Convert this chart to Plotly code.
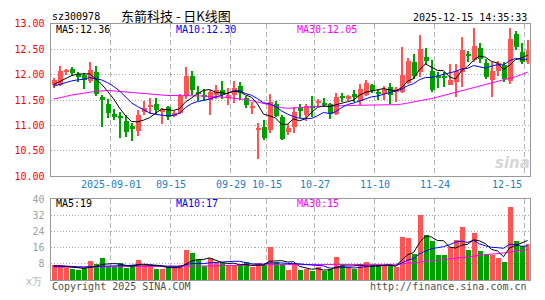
import plotly.graph_objects as go
import pandas as pd

# ---------------- data ----------------
start_day, end_day = "2025-08-18", "2025-12-15"
holiday_from, holiday_to = "2025-10-01", "2025-10-08"
days = [d for d in pd.bdate_range(start_day, end_day)
        if not (pd.Timestamp(holiday_from) <= d <= pd.Timestamp(holiday_to))]
dates = [d.strftime("%Y-%m-%d") for d in days]

opens = [11.80, 11.81, 12.06, 12.11, 12.01, 12.00, 11.87, 12.06, 11.56, 11.43,
         11.24, 11.18, 11.10, 11.00, 10.90, 11.27, 11.36, 11.43, 11.28, 11.37,
         11.20, 11.26, 11.58, 11.98, 11.67, 11.61, 11.51, 11.61, 11.71, 11.54,
         11.61, 11.78, 11.54, 11.36, 10.92, 10.98, 10.92, 11.43, 11.18, 10.88,
         10.97, 11.34, 11.22, 11.39, 11.45, 11.45, 11.43, 11.24, 11.57, 11.52,
         11.62, 11.49, 11.61, 11.81, 11.65, 11.62, 11.76, 11.66, 11.66, 11.85,
         12.25, 12.05, 12.36, 12.08, 11.97, 11.97, 11.81, 11.86, 12.05, 12.40,
         12.29, 12.53, 12.23, 11.90, 12.08, 12.19, 11.88, 12.81, 12.44, 12.25]
highs = [11.93, 12.17, 12.11, 12.15, 12.06, 12.04, 12.26, 12.17, 11.60, 11.53,
         11.33, 11.28, 11.22, 11.06, 11.31, 11.48, 11.54, 11.54, 11.35, 11.39,
         11.29, 11.62, 12.15, 12.07, 11.78, 11.72, 11.70, 11.80, 11.87, 11.75,
         11.87, 11.86, 11.58, 11.47, 11.05, 11.12, 11.62, 11.49, 11.22, 11.04,
         11.37, 11.43, 11.43, 11.58, 11.53, 11.54, 11.45, 11.64, 11.65, 11.61,
         11.71, 11.83, 11.89, 11.83, 11.71, 11.78, 11.85, 11.76, 12.55, 12.33,
         12.41, 12.78, 12.52, 12.30, 12.05, 12.05, 12.21, 12.21, 12.75, 12.46,
         12.93, 12.63, 12.32, 12.25, 12.27, 12.25, 12.92, 12.87, 12.62, 12.68]
lows = [11.74, 11.78, 12.00, 11.98, 11.86, 11.72, 11.85, 11.59, 10.97, 11.15,
        11.12, 10.76, 10.77, 10.70, 10.80, 11.22, 11.24, 11.24, 11.03, 11.12,
        11.18, 11.24, 11.53, 11.61, 11.48, 11.49, 11.22, 11.53, 11.53, 11.41,
        11.45, 11.50, 11.35, 11.23, 10.35, 10.73, 10.86, 11.17, 10.73, 10.82,
        10.86, 11.15, 11.10, 11.18, 11.39, 11.37, 11.14, 11.22, 11.47, 11.48,
        11.47, 11.41, 11.58, 11.64, 11.51, 11.51, 11.43, 11.47, 11.64, 11.83,
        11.91, 11.95, 12.20, 11.67, 11.74, 11.77, 11.80, 11.56, 11.77, 12.25,
        12.25, 12.24, 11.92, 11.56, 11.98, 11.86, 11.83, 12.49, 12.21, 12.21]
closes = [11.89, 12.08, 12.10, 12.03, 11.96, 11.90, 12.09, 11.62, 11.50, 11.26,
          11.17, 11.17, 10.87, 10.93, 11.22, 11.34, 11.41, 11.31, 11.32, 11.18,
          11.26, 11.58, 11.98, 11.70, 11.63, 11.56, 11.67, 11.71, 11.61, 11.61,
          11.75, 11.64, 11.40, 11.38, 10.94, 10.76, 11.47, 11.20, 10.74, 10.96,
          11.28, 11.29, 11.39, 11.36, 11.47, 11.41, 11.24, 11.56, 11.55, 11.58,
          11.56, 11.73, 11.85, 11.68, 11.64, 11.73, 11.61, 11.73, 12.00, 12.28,
          11.98, 12.51, 12.28, 11.70, 11.95, 11.95, 11.90, 12.08, 12.49, 12.38,
          12.56, 12.32, 11.96, 12.08, 12.23, 11.92, 12.71, 12.54, 12.25, 12.48]
volumes = [7.1, 7.1, 5.8, 5.5, 4.8, 5.8, 9.4, 8.0, 10.9, 6.3,
           6.3, 8.3, 5.8, 7.1, 9.8, 7.1, 7.1, 5.5, 5.2, 6.3,
           6.3, 7.1, 14.5, 13.2, 9.8, 6.6, 10.9, 8.3, 8.3, 7.1,
           7.4, 7.1, 8.6, 6.3, 8.3, 7.1, 16.3, 8.9, 7.7, 4.8,
           7.8, 4.8, 5.2, 4.3, 6.3, 4.3, 5.2, 11.4, 7.5, 5.8,
           5.2, 7.5, 8.9, 7.1, 7.1, 7.1, 7.1, 6.3, 21.4, 20.9,
           12.5, 32.0, 22.2, 19.1, 12.2, 12.2, 16.3, 19.7, 26.0, 14.5,
           23.2, 14.0, 12.5, 12.0, 10.5, 8.9, 35.8, 19.1, 16.6, 17.8]
# closes / volumes of the sessions just before the first visible one (for MA start)
prev_closes = [11.70, 11.72, 11.74, 11.76, 11.78, 11.76, 11.78, 11.79, 11.80]
prev_volumes = [7.0, 7.2, 6.9, 7.1, 7.3, 6.8, 7.0, 7.2, 7.1]
# 30-day averages
ma30_price = [11.52, 11.54, 11.57, 11.60, 11.62, 11.64, 11.66, 11.67, 11.68, 11.69,
              11.68, 11.67, 11.66, 11.65, 11.63, 11.62, 11.61, 11.60, 11.60, 11.59,
              11.59, 11.59, 11.59, 11.58, 11.58, 11.58, 11.57, 11.57, 11.56, 11.55,
              11.54, 11.53, 11.51, 11.49, 11.46, 11.43, 11.40, 11.37, 11.35, 11.34,
              11.34, 11.35, 11.36, 11.37, 11.37, 11.38, 11.38, 11.39, 11.39, 11.39,
              11.40, 11.40, 11.40, 11.40, 11.40, 11.40, 11.41, 11.41, 11.42, 11.44,
              11.46, 11.48, 11.50, 11.53, 11.56, 11.59, 11.62, 11.65, 11.68, 11.71,
              11.74, 11.77, 11.80, 11.83, 11.86, 11.89, 11.92, 11.96, 12.00, 12.05]
ma30_vol = [6.3, 6.3, 6.4, 6.4, 6.4, 6.5, 6.5, 6.5, 6.6, 6.6,
            6.6, 6.6, 6.7, 6.7, 6.7, 6.7, 6.8, 6.8, 6.8, 6.8,
            6.9, 6.9, 6.9, 7.0, 7.0, 7.0, 7.0, 7.1, 7.1, 7.1,
            7.2, 7.2, 7.3, 7.4, 7.5, 7.6, 7.7, 7.7, 7.7, 7.7,
            7.7, 7.7, 7.7, 7.7, 7.7, 7.6, 7.6, 7.6, 7.6, 7.6,
            7.6, 7.6, 7.6, 7.7, 7.7, 7.7, 7.8, 7.8, 8.0, 8.3,
            8.6, 8.9, 9.2, 9.4, 9.7, 10.0, 10.4, 10.8, 11.2, 11.5,
            11.9, 12.3, 12.6, 12.9, 13.1, 13.3, 13.8, 14.3, 14.7, 15.1]

tick_dates = ["2025-09-01", "2025-09-15", "2025-09-29", "2025-10-15",
              "2025-10-27", "2025-11-10", "2025-11-24", "2025-12-15"]
tick_labels = ["2025-09-01", "09-15", "09-29", "10-15", "10-27", "11-10", "11-24", "12-15"]
price_ticks = [10.0, 10.5, 11.0, 11.5, 12.0, 12.5, 13.0]
vol_ticks = [8, 16, 24, 32, 40]

code = "sz300978"
title = "东箭科技 - 日K线图"
stamp = "2025-12-15 14:35:33"
price_ma_text = ["MA5:12.36", "MA10:12.30", "MA30:12.05"]
vol_ma_text = ["MA5:19", "MA10:17", "MA30:15"]
unit_text = "x万"
copyright_text = "Copyright 2025 SINA.COM"
url_text = "http://finance.sina.com.cn"

# ---------------- helpers ----------------
def moving_avg(prev, vals, n):
    full = list(prev) + list(vals)
    off = len(prev)
    return [sum(full[off + i - n + 1: off + i + 1]) / n for i in range(len(vals))]

W, H = 545, 300
RED, GREEN = "#ff5454", "#00a000"
MONO = "DejaVu Sans Mono"

x = list(range(len(dates)))
up = [c >= o for o, c in zip(opens, closes)]
colors = [RED if u else GREEN for u in up]
body_base = [min(o, c) for o, c in zip(opens, closes)]
body_h = [max(abs(c - o), 0.015) for o, c in zip(opens, closes)]
wick_h = [h - l for h, l in zip(highs, lows)]

ma5 = moving_avg(prev_closes, closes, 5)
ma10 = moving_avg(prev_closes, closes, 10)
vma5 = moving_avg(prev_volumes, volumes, 5)
vma10 = moving_avg(prev_volumes, volumes, 10)

grid_pos = [dates.index(d) - 0.5 for d in tick_dates]

fig = go.Figure()
# price panel
fig.add_trace(go.Bar(x=x, y=wick_h, base=lows, width=1 / 6, marker=dict(color=colors, line_width=0),
                     xaxis="x", yaxis="y"))
fig.add_trace(go.Bar(x=x, y=body_h, base=body_base, width=5 / 6, marker=dict(color=colors, line_width=0),
                     xaxis="x", yaxis="y"))
for vals, col in [(ma30_price, "#ff00ff"), (ma10, "#0000ff"), (ma5, "#000000")]:
    fig.add_trace(go.Scatter(x=x, y=vals, mode="lines", line=dict(color=col, width=1),
                             xaxis="x", yaxis="y"))
# volume panel
fig.add_trace(go.Bar(x=x, y=volumes, width=5 / 6, marker=dict(color=colors, line_width=0),
                     xaxis="x2", yaxis="y2"))
for vals, col in [(ma30_vol, "#ff00ff"), (vma10, "#0000ff"), (vma5, "#000000")]:
    fig.add_trace(go.Scatter(x=x, y=vals, mode="lines", line=dict(color=col, width=1),
                             xaxis="x2", yaxis="y2"))

x0, x1 = 50.5, 529.5
xrange = [-0.5, -0.5 + (x1 - x0) / 6]
xdom = [x0 / W, x1 / W]
p_top, p_bot = 18.5, 177.5
v_top, v_bot = 201.5, 285.5

axis_common = dict(showline=True, linecolor="#999999", linewidth=1, mirror=True,
                   zeroline=False, ticks="", fixedrange=True)
xaxis_cfg = dict(axis_common, range=xrange, domain=xdom, tickvals=grid_pos,
                 showticklabels=False, showgrid=True, gridcolor="#b4b4b4",
                 griddash="5px,3px", gridwidth=1)

annotations = []
def ann(text, px, py, color, size=10, xanchor="left", family=MONO, **kw):
    annotations.append(dict(text=text, x=px / W, y=1 - py / H, xref="paper", yref="paper",
                            xanchor=xanchor, yanchor="middle", showarrow=False,
                            font=dict(family=family, size=size, color=color), **kw))

ann(code, 50, 11, "#000000", size=10)
ann(title, 176, 10, "#000000", size=13, xanchor="center", family="Noto Sans CJK SC")
ann(stamp, 529, 12, "#000000", size=10, xanchor="right")
ann(price_ma_text[0], 54, 24, "#000000")
ann(price_ma_text[1], 174, 24, "#0000ff")
ann(price_ma_text[2], 295, 24, "#ff00ff")
ann(vol_ma_text[0], 54, 206, "#000000")
ann(vol_ma_text[1], 174, 206, "#0000ff")
ann(vol_ma_text[2], 295, 206, "#ff00ff")
ann(unit_text, 44, 287, "#b0b0b0", xanchor="right")
ann(copyright_text, 50, 292, "#505050")
ann(url_text, 529, 292, "#505050", xanchor="right")
ann("<b><i>sina</i></b>", 512, 164, "#d6d6d6", size=15, xanchor="center", family="DejaVu Sans")

for pos, lab in zip(grid_pos, tick_labels):
    last = pos == grid_pos[-1]
    annotations.append(dict(text=lab, x=pos, xref="x", y=1 - 186 / H, yref="paper",
                            xanchor="right" if last else "center", yanchor="middle",
                            xshift=-1 if last else 0, showarrow=False,
                            font=dict(family=MONO, size=10, color="#2080d0")))

fig.update_layout(
    width=W, height=H, margin=dict(l=0, r=0, t=0, b=0),
    paper_bgcolor="white", plot_bgcolor="white",
    showlegend=False, hovermode=False, barmode="overlay", bargap=0,
    xaxis=xaxis_cfg,
    xaxis2=dict(xaxis_cfg, anchor="y2"),
    yaxis=dict(axis_common, range=[10, 13], domain=[1 - p_bot / H, 1 - p_top / H],
               tickvals=price_ticks, ticktext=[f"{v:.2f}" for v in price_ticks],
               tickfont=dict(family=MONO, size=10, color="#ff0000"),
               showgrid=True, gridcolor="#a8a8a8", griddash="1px,2px", ticklabelstandoff=3),
    yaxis2=dict(axis_common, range=[0, 40], domain=[1 - v_bot / H, 1 - v_top / H],
                tickvals=vol_ticks, ticktext=[str(v) for v in vol_ticks],
                tickfont=dict(family=MONO, size=10, color="#a0a0a0"), anchor="x2",
                showgrid=True, gridcolor="#a8a8a8", griddash="1px,2px", ticklabelstandoff=3),
    annotations=annotations,
)

fig.write_html("out.html")
